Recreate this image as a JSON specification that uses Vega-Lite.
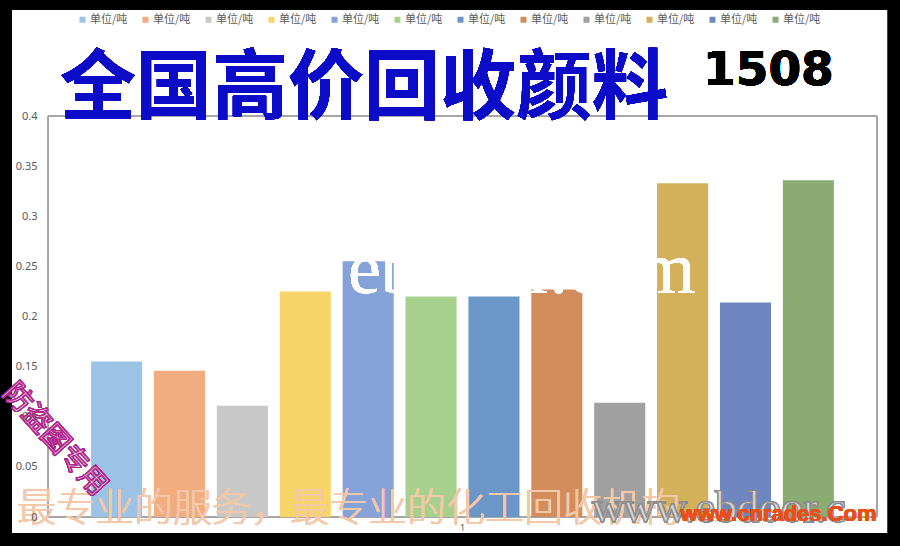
{
  "$schema": "https://vega.github.io/schema/vega-lite/v6.json",
  "width": 829,
  "height": 401,
  "autosize": {"type": "none"},
  "padding": {"left": 48, "top": 116, "right": 23, "bottom": 29},
  "background": "#000000",
  "config": {"view": {"stroke": null}},
  "data": {
    "values": [
      {"cat": "1", "series": "s01", "name": "单位/吨", "value": 0.155},
      {"cat": "1", "series": "s02", "name": "单位/吨", "value": 0.146},
      {"cat": "1", "series": "s03", "name": "单位/吨", "value": 0.111},
      {"cat": "1", "series": "s04", "name": "单位/吨", "value": 0.225},
      {"cat": "1", "series": "s05", "name": "单位/吨", "value": 0.255},
      {"cat": "1", "series": "s06", "name": "单位/吨", "value": 0.22},
      {"cat": "1", "series": "s07", "name": "单位/吨", "value": 0.22},
      {"cat": "1", "series": "s08", "name": "单位/吨", "value": 0.227},
      {"cat": "1", "series": "s09", "name": "单位/吨", "value": 0.114},
      {"cat": "1", "series": "s10", "name": "单位/吨", "value": 0.333},
      {"cat": "1", "series": "s11", "name": "单位/吨", "value": 0.214},
      {"cat": "1", "series": "s12", "name": "单位/吨", "value": 0.336}
    ]
  },
  "resolve": {"scale": {"x": "independent"}, "axis": {"x": "independent"}},
  "layer": [
    {
      "mark": {"type": "rect", "fill": "#ffffff"},
      "encoding": {
        "x": {"datum": -0.0434, "type": "quantitative", "scale": {"domain": [0, 1], "nice": false, "zero": false}, "axis": null},
        "x2": {"datum": 1.0121},
        "y": {"datum": 0.5057, "type": "quantitative", "scale": {"domain": [0, 0.4], "nice": false}},
        "y2": {"datum": -0.016}
      }
    },
    {
      "mark": {"type": "rect", "fill": null, "stroke": "#a6a6a6", "strokeWidth": 1},
      "encoding": {
        "x": {"datum": 0, "type": "quantitative", "scale": {"domain": [0, 1], "nice": false, "zero": false}, "axis": null},
        "x2": {"datum": 1},
        "y": {"datum": 0.4, "type": "quantitative", "scale": {"domain": [0, 0.4], "nice": false}},
        "y2": {"datum": 0}
      }
    },
    {
      "mark": {"type": "bar"},
      "encoding": {
        "x": {
          "field": "cat", "type": "nominal",
          "scale": {"paddingInner": 0, "paddingOuter": 0.058},
          "axis": {"title": null, "labelAngle": 0, "ticks": false, "domain": false, "labelFontSize": 9, "labelColor": "#595959", "labelFont": "Noto Sans", "labelPadding": 6, "zindex": 1}
        },
        "xOffset": {"field": "series", "type": "nominal", "scale": {"paddingInner": 0.188, "paddingOuter": 0}},
        "y": {
          "field": "value", "type": "quantitative",
          "scale": {"domain": [0, 0.4], "nice": false},
          "axis": {"title": null, "values": [0, 0.05, 0.1, 0.15, 0.2, 0.25, 0.3, 0.35, 0.4], "format": ".2~f", "grid": false, "ticks": false, "domain": false, "labelFontSize": 11, "labelColor": "#595959", "labelFont": "Noto Sans", "labelPadding": 11, "zindex": 1}
        },
        "color": {
          "field": "series", "type": "nominal",
          "scale": {
            "domain": ["s01", "s02", "s03", "s04", "s05", "s06", "s07", "s08", "s09", "s10", "s11", "s12"],
            "range": ["#9cc2e5", "#f1ac7f", "#c8c8c8", "#f7d569", "#86a3d9", "#a8d08d", "#6b97c8", "#d38c5c", "#a0a0a0", "#d3b15a", "#6f86c0", "#8aab72"]
          },
          "legend": {
            "title": null, "orient": "none", "legendX": 29, "legendY": -102, "direction": "horizontal", "columns": 12,
            "symbolType": "square", "symbolSize": 36, "symbolStrokeWidth": 0, "labelExpr": "'单位/吨'",
            "labelFont": "Noto Sans CJK SC", "labelFontSize": 11, "labelColor": "#595959", "labelOffset": 2,
            "columnPadding": 12, "padding": 0, "zindex": 1
          }
        }
      }
    },
    {
      "mark": {"type": "text", "text": "ebdoor.com", "align": "left", "baseline": "alphabetic", "font": "Liberation Serif", "fontSize": 74, "fill": "#ffffff", "opacity": 0.7},
      "encoding": {
        "x": {"datum": 0.3619, "type": "quantitative", "scale": {"domain": [0, 1], "nice": false, "zero": false}, "axis": null},
        "y": {"datum": 0.2234, "type": "quantitative", "scale": {"domain": [0, 0.4], "nice": false}}
      }
    },
    {
      "mark": {"type": "text", "text": "最专业的服务，最专业的化工回收机构", "align": "left", "baseline": "alphabetic", "font": "Noto Sans CJK SC", "fontWeight": 300, "fontSize": 39, "fill": "#f3c9a9", "opacity": 0.8},
      "encoding": {
        "x": {"datum": -0.0374, "type": "quantitative", "scale": {"domain": [0, 1], "nice": false, "zero": false}, "axis": null},
        "y": {"datum": -0.004, "type": "quantitative", "scale": {"domain": [0, 0.4], "nice": false}}
      }
    },
    {
      "mark": {"type": "text", "text": "www.ebdoor.c", "align": "left", "baseline": "alphabetic", "font": "Liberation Serif", "fontSize": 44, "fill": "#d8d8d8", "fillOpacity": 0.4, "stroke": "#8a8a8a", "strokeWidth": 0.8},
      "encoding": {
        "x": {"datum": 0.6562, "type": "quantitative", "scale": {"domain": [0, 1], "nice": false, "zero": false}, "axis": null},
        "y": {"datum": -0.005, "type": "quantitative", "scale": {"domain": [0, 0.4], "nice": false}}
      }
    },
    {
      "mark": {"type": "text", "text": "www.cnrades.Com", "align": "left", "baseline": "alphabetic", "font": "Liberation Sans", "fontWeight": "bold", "fontSize": 22, "fill": "#e8501a"},
      "encoding": {
        "x": {"datum": 0.763, "type": "quantitative", "scale": {"domain": [0, 1], "nice": false, "zero": false}, "axis": null},
        "y": {"datum": -0.004, "type": "quantitative", "scale": {"domain": [0, 0.4], "nice": false}}
      }
    },
    {
      "mark": {"type": "text", "text": "防盗图专用", "align": "center", "baseline": "middle", "angle": 48, "font": "Noto Sans CJK SC", "fontSize": 28, "fill": "#ffffff", "fillOpacity": 0.4, "stroke": "#b0258c", "strokeWidth": 1.1},
      "encoding": {
        "x": {"datum": 0.008, "type": "quantitative", "scale": {"domain": [0, 1], "nice": false, "zero": false}, "axis": null},
        "y": {"datum": 0.0768, "type": "quantitative", "scale": {"domain": [0, 0.4], "nice": false}}
      }
    },
    {
      "mark": {"type": "text", "text": "全国高价回收颜料", "align": "left", "baseline": "alphabetic", "font": "Noto Sans CJK SC", "fontWeight": "bold", "fontSize": 76, "fill": "#0c0cc8"},
      "encoding": {
        "x": {"datum": 0.0145, "type": "quantitative", "scale": {"domain": [0, 1], "nice": false, "zero": false}, "axis": null},
        "y": {"datum": 0.403, "type": "quantitative", "scale": {"domain": [0, 0.4], "nice": false}}
      }
    },
    {
      "mark": {"type": "text", "text": "1508", "align": "left", "baseline": "alphabetic", "font": "DejaVu Sans", "fontWeight": "bold", "fontSize": 47, "fill": "#000000"},
      "encoding": {
        "x": {"datum": 0.7901, "type": "quantitative", "scale": {"domain": [0, 1], "nice": false, "zero": false}, "axis": null},
        "y": {"datum": 0.4309, "type": "quantitative", "scale": {"domain": [0, 0.4], "nice": false}}
      }
    }
  ]
}
